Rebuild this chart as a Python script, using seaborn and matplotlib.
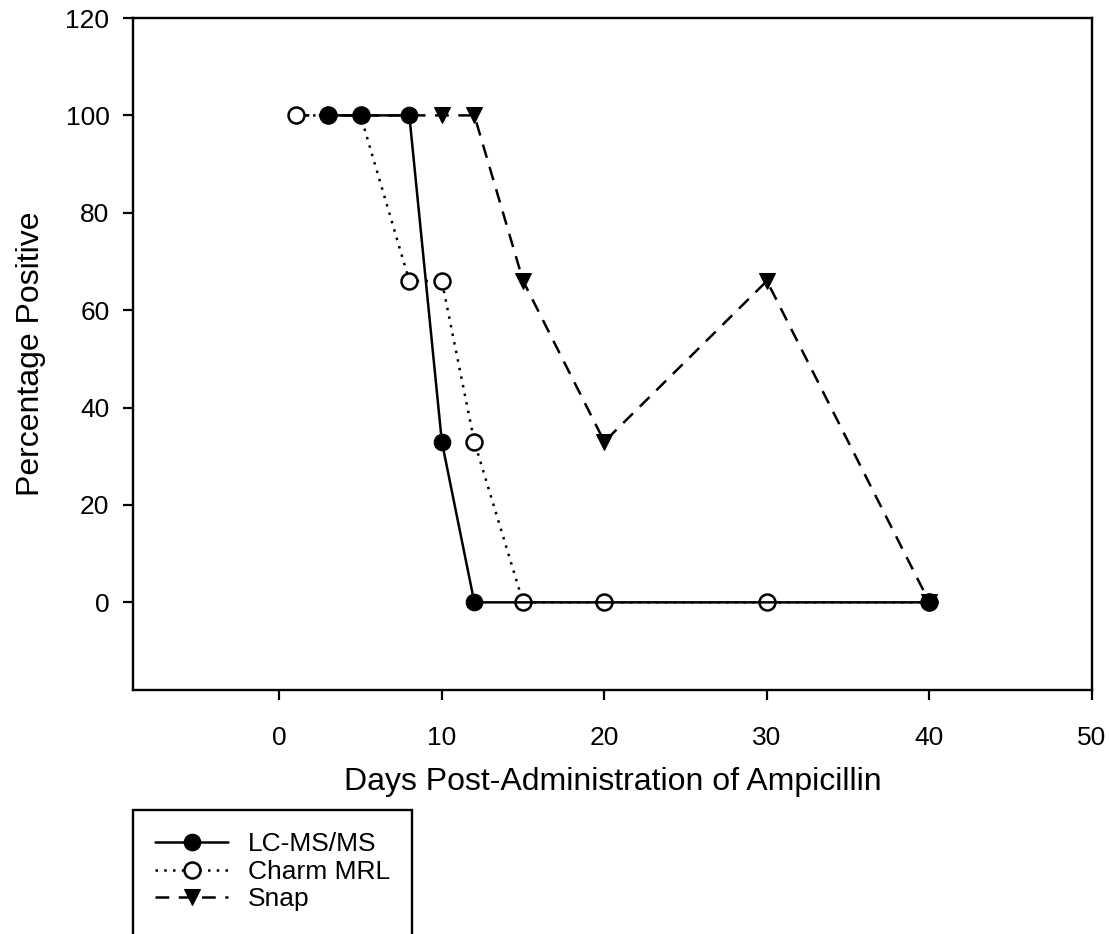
import matplotlib
matplotlib.use("Agg")
import matplotlib.pyplot as plt
from matplotlib.lines import Line2D
import seaborn as sns

# Data
lc_days = [3, 5, 8, 10, 12, 40]
lc_pct = [100, 100, 100, 33, 0, 0]

charm_days = [1, 3, 5, 8, 10, 12, 15, 20, 30, 40]
charm_pct = [100, 100, 100, 66, 66, 33, 0, 0, 0, 0]

snap_days = [1, 3, 5, 8, 10, 12, 15, 20, 30, 40]
snap_pct = [100, 100, 100, 100, 100, 100, 66, 33, 66, 0]

x_ticks = [0, 10, 20, 30, 40, 50]
y_ticks = [0, 20, 40, 60, 80, 100, 120]

sns.set_style("ticks")
plt.rcParams["font.family"] = ["Liberation Sans", "DejaVu Sans"]
plt.rcParams["text.color"] = "black"
plt.rcParams["axes.labelcolor"] = "black"

fig = plt.figure(figsize=(11.09, 9.34), dpi=100)
ax = fig.add_axes([133 / 1109, 1 - 690 / 934, (1092 - 133) / 1109, (690 - 18) / 934])

# Snap - dashed with filled down triangles (drawn first, lowest);
# the early points sit under the circles, so only show markers from day 10
sns.lineplot(x=snap_days, y=snap_pct, ax=ax, color="black", linewidth=1.8,
             linestyle=(0, (5.5, 3.8)), marker="v", markersize=12,
             markerfacecolor="black", markeredgecolor="black",
             markevery=[4, 5, 6, 7, 8, 9], label="Snap", zorder=2)

# Charm MRL - dotted with open circles
sns.lineplot(x=charm_days, y=charm_pct, ax=ax, color="black", linewidth=1.8,
             linestyle=(0, (1, 2.5)), marker="o", markersize=11.5,
             markerfacecolor="white", markeredgecolor="black", markeredgewidth=1.8,
             label="Charm MRL", zorder=3)

# LC-MS/MS - solid with filled circles (on top)
sns.lineplot(x=lc_days, y=lc_pct, ax=ax, color="black", linewidth=1.8,
             marker="o", markersize=12, markerfacecolor="black",
             markeredgecolor="black", label="LC-MS/MS", zorder=4)

ax.set_xlim(-9, 50)
ax.set_ylim(-18, 120)
ax.set_xticks(x_ticks)
ax.set_yticks(y_ticks)

for side in ["left", "right", "top", "bottom"]:
    ax.spines[side].set_visible(True)
    ax.spines[side].set_linewidth(1.7)
    ax.spines[side].set_color("black")

ax.tick_params(axis="both", direction="out", length=7, width=1.6, color="black",
               labelsize=19, labelcolor="black")
ax.tick_params(axis="x", pad=19)
ax.tick_params(axis="y", pad=10)

ax.set_xlabel("Days Post-Administration of Ampicillin", fontsize=23, labelpad=12, color="black")
ax.set_ylabel("Percentage Positive", fontsize=23, labelpad=14, color="black")

# legend below the plot, box runs off the bottom edge
handles, labels = ax.get_legend_handles_labels()
ax.get_legend().remove()
order = ["LC-MS/MS", "Charm MRL", "Snap"]
hmap = dict(zip(labels, handles))
leg_handles = [hmap[k] for k in order] + [Line2D([], [], linestyle="none", marker="none")]
leg_labels = order + [" "]
leg = fig.legend(leg_handles, leg_labels, loc="upper left",
                 bbox_to_anchor=(133 / 1109, 1 - 810 / 934),
                 fontsize=19, frameon=True, fancybox=False, framealpha=1,
                 edgecolor="black", borderpad=0.85, labelspacing=0.13,
                 handlelength=2.75, handletextpad=0.75, borderaxespad=0,
                 labelcolor="black")
leg.get_frame().set_linewidth(1.7)
# one marker in the middle of each legend line
for h in leg.legend_handles:
    h.set_markevery([1])

fig.savefig("out.png", dpi=100)
